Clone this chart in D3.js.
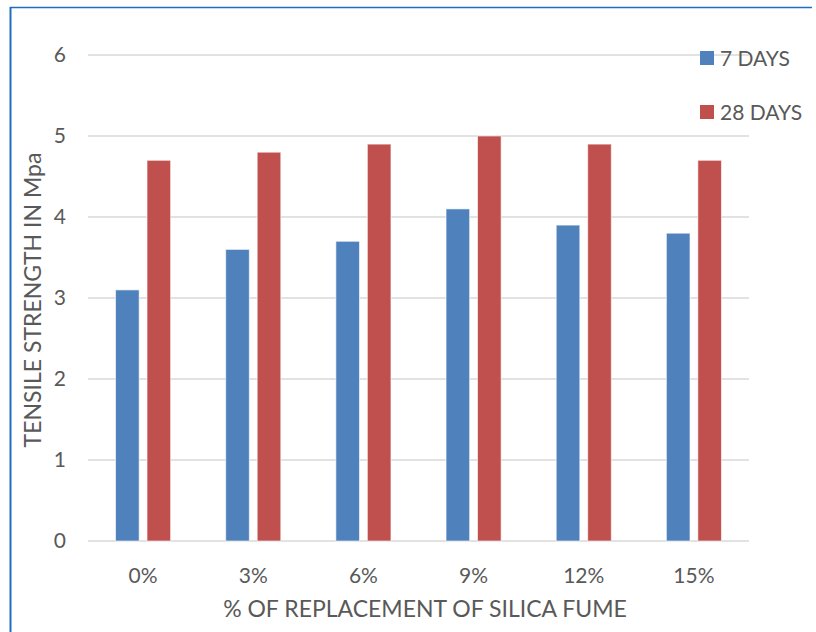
<!DOCTYPE html>
<html>
<head>
<meta charset="utf-8">
<script src="https://cdn.jsdelivr.net/npm/d3@7"></script>
<style>
  body { margin: 0; background: #fff; }
  text { font-family: Lato, "Open Sans", sans-serif; fill: #595959; }
</style>
</head>
<body>
<div id="chart"></div>
<script>
// data
const categories = ["0%", "3%", "6%", "9%", "12%", "15%"];
const seriesNames = ["7 DAYS", "28 DAYS"];
const days7 = [3.1, 3.6, 3.7, 4.1, 3.9, 3.8];
const days28 = [4.7, 4.8, 4.9, 5.0, 4.9, 4.7];
const yTicks = [0, 1, 2, 3, 4, 5, 6];
const colors = ["#4f81bd", "#c0504d"];

const width = 816, height = 632;
const plot = {left: 88, right: 749, top: 55, bottom: 541};

const svg = d3.select("#chart")
    .append("svg")
    .attr("width", width)
    .attr("height", height);

// outer frame (top + left edges visible)
svg.append("line").attr("x1", 10).attr("x2", 812).attr("y1", 7.5).attr("y2", 7.5)
    .attr("stroke", "#1f6fbf").attr("stroke-width", 1.5);
svg.append("line").attr("x1", 10.5).attr("x2", 10.5).attr("y1", 7).attr("y2", height)
    .attr("stroke", "#1f6fbf").attr("stroke-width", 2);

const x0 = d3.scaleBand()
    .domain(categories)
    .range([plot.left, plot.right])
    .paddingInner(0.5)
    .paddingOuter(0.25);

const x1 = d3.scaleBand()
    .domain(seriesNames)
    .range([0, x0.bandwidth()])
    .paddingInner(0.25);

const y = d3.scaleLinear()
    .domain([0, 6])
    .range([plot.bottom, plot.top]);

// gridlines
svg.append("g")
    .selectAll("line")
    .data(yTicks)
    .enter().append("line")
    .attr("x1", plot.left)
    .attr("x2", plot.right)
    .attr("y1", d => y(d))
    .attr("y2", d => y(d))
    .attr("stroke", "#d9d9d9")
    .attr("stroke-width", 1.5);

// y tick labels
svg.append("g")
    .selectAll("text")
    .data(yTicks)
    .enter().append("text")
    .attr("x", 66)
    .attr("y", d => y(d) + 7)
    .attr("text-anchor", "end")
    .style("font-size", "21px")
    .text(d => d);

// bars
const rows = categories.map((c, i) => ({cat: c, vals: [days7[i], days28[i]]}));

const groups = svg.append("g")
    .selectAll("g")
    .data(rows)
    .enter().append("g")
    .attr("transform", d => `translate(${x0(d.cat)},0)`);

groups.selectAll("rect")
    .data(d => d.vals.map((v, j) => ({s: seriesNames[j], v: v, j: j})))
    .enter().append("rect")
    .attr("x", d => x1(d.s))
    .attr("y", d => y(d.v))
    .attr("width", x1.bandwidth())
    .attr("height", d => y(0) - y(d.v))
    .attr("fill", d => colors[d.j])
    .attr("stroke", "#fff")
    .attr("stroke-opacity", 0.6)
    .attr("stroke-width", 1);

// x tick labels
svg.append("g")
    .selectAll("text")
    .data(categories)
    .enter().append("text")
    .attr("x", d => x0(d) + x0.bandwidth() / 2)
    .attr("y", 583)
    .attr("text-anchor", "middle")
    .style("font-size", "21px")
    .text(d => d);

// axis titles
svg.append("text")
    .attr("x", 425)
    .attr("y", 617)
    .attr("text-anchor", "middle")
    .style("font-size", "23px")
    .text("% OF REPLACEMENT OF SILICA FUME");

svg.append("text")
    .attr("transform", `translate(41, 300) rotate(-90)`)
    .attr("text-anchor", "middle")
    .style("font-size", "23px")
    .text("TENSILE STRENGTH IN Mpa");

// legend
const legend = svg.append("g");
seriesNames.forEach((name, i) => {
    legend.append("rect").attr("x", 700).attr("y", 51 + i * 54).attr("width", 14).attr("height", 14)
        .attr("fill", colors[i]);
    legend.append("text").attr("x", 720).attr("y", 66 + i * 54)
        .style("font-size", "21px").text(name);
});
</script>
</body>
</html>
